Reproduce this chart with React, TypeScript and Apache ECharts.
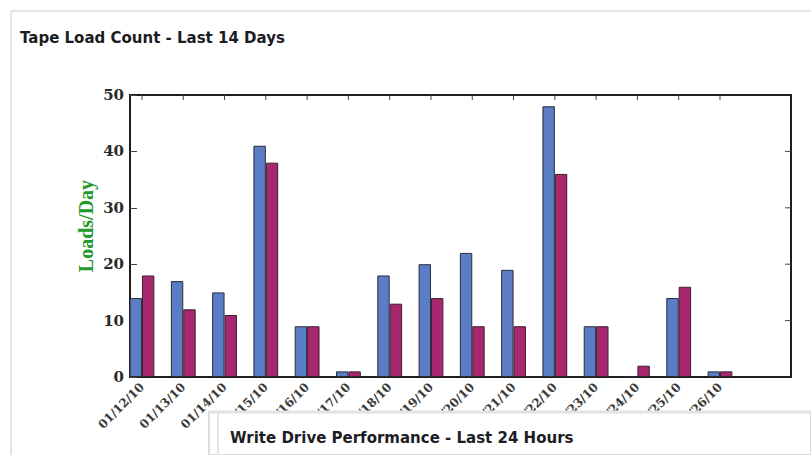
import React, { useEffect, useRef } from "react";
import * as echarts from "echarts";

const dates = [
  "01/12/10", "01/13/10", "01/14/10", "01/15/10", "01/16/10", "01/17/10", "01/18/10", "01/19/10",
  "01/20/10", "01/21/10", "01/22/10", "01/23/10", "01/24/10", "01/25/10", "01/26/10",
];
const seriesA = [14, 17, 15, 41, 9, 1, 18, 20, 22, 19, 48, 9, 0, 14, 1];
const seriesB = [18, 12, 11, 38, 9, 1, 13, 14, 9, 9, 36, 9, 2, 16, 1];
const yTicks = [0, 10, 20, 30, 40, 50];
const tickIdx = dates.map((_, i) => i);
const xMin = -0.29;
const xMax = 15.72;

export default function App() {
  const ref = useRef<HTMLDivElement>(null);
  useEffect(() => {
    document.body.style.margin = "0";
    const chart = echarts.init(ref.current!, undefined, { renderer: "svg" });
    const frame = "#1e1e1e";
    const serif = "DejaVu Serif";
    chart.setOption({
      animation: false,
      grid: { left: 130, right: 20, top: 95, bottom: 78 },
      xAxis: [
        {
          type: "value",
          position: "bottom",
          min: xMin,
          max: xMax,
          splitLine: { show: false },
          axisLine: { show: true, onZero: false, lineStyle: { color: frame, width: 2 } },
          axisTick: { show: false },
          axisLabel: {
            customValues: tickIdx,
            rotate: 45,
            margin: 8,
            color: "#3a3a3a",
            fontFamily: serif,
            fontWeight: "bold",
            fontSize: 12,
            formatter: (v: number) => dates[Math.round(v)] ?? "",
          },
        },
      ],
      yAxis: [
        {
          type: "value",
          min: 0,
          max: 50,
          interval: 10,
          position: "left",
          splitLine: { show: false },
          axisLine: { show: true, onZero: false, lineStyle: { color: frame, width: 2 } },
          axisTick: { show: true, inside: true, length: 7, lineStyle: { color: "#444", width: 1 } },
          axisLabel: { color: "#2a2a2a", fontFamily: serif, fontWeight: "bold", fontSize: 15, margin: 6 },
        },
      ],
      series: [
        {
          type: "bar",
          barWidth: 12.4,
          barGap: "0%",
          data: seriesA.map((v, i) => [i, v]),
          itemStyle: { color: "#5a7dc6", borderColor: "#2b2b3a", borderWidth: 1 },
        },
        {
          type: "bar",
          barWidth: 12.4,
          barGap: "0%",
          data: seriesB.map((v, i) => [i, v]),
          itemStyle: { color: "#a8286f", borderColor: "#3a2030", borderWidth: 1 },
        },
      ],
    });

    const xL = chart.convertToPixel({ xAxisIndex: 0 }, xMin) as number;
    const xR = chart.convertToPixel({ xAxisIndex: 0 }, xMax) as number;
    const yT = chart.convertToPixel({ yAxisIndex: 0 }, 50) as number;
    const yB = chart.convertToPixel({ yAxisIndex: 0 }, 0) as number;

    const els: any[] = [];
    tickIdx.forEach((i) => {
      const x = chart.convertToPixel({ xAxisIndex: 0 }, i) as number;
      els.push({ type: "polyline", shape: { points: [[x, yT], [x, yT + 5]] }, style: { stroke: "#444", lineWidth: 1, fill: null } });
    });
    yTicks.slice(1, -1).forEach((v) => {
      const y = chart.convertToPixel({ yAxisIndex: 0 }, v) as number;
      els.push({ type: "polyline", shape: { points: [[xR, y], [xR - 6, y]] }, style: { stroke: "#444", lineWidth: 1, fill: null } });
    });

    chart.setOption({
      graphic: [
        {
          type: "polyline",
          shape: { points: [[xL - 1, yT], [xR, yT], [xR, yB + 1]] },
          style: { stroke: frame, lineWidth: 2, fill: null },
        },
        ...els,
        {
          type: "text",
          x: 20,
          y: 38,
          style: {
            text: "Tape Load Count - Last 14 Days",
            fill: "#1c1c24",
            font: "bold 15px 'DejaVu Sans'",
            verticalAlign: "middle",
          },
        },
        {
          type: "text",
          x: 86,
          y: 226,
          rotation: Math.PI / 2,
          style: {
            text: "Loads/Day",
            fill: "#22992c",
            font: "bold 20px 'Liberation Serif'",
            align: "center",
            verticalAlign: "middle",
          },
        },
        {
          type: "rect",
          z: 100,
          shape: { x: 209, y: 412, width: 602, height: 43 },
          style: { fill: "#ffffff", stroke: "#dcdcdc", lineWidth: 2 },
        },
        {
          type: "polyline",
          z: 101,
          shape: { points: [[208, 412], [811, 412]] },
          style: { stroke: "#e2e2e2", lineWidth: 3, fill: null },
        },
        {
          type: "polyline",
          z: 101,
          shape: { points: [[218, 414], [218, 455]] },
          style: { stroke: "#e6e6e6", lineWidth: 2, fill: null },
        },
        {
          type: "text",
          z: 102,
          x: 230,
          y: 438,
          style: {
            text: "Write Drive Performance - Last 24 Hours",
            fill: "#1c1c24",
            font: "bold 15px 'DejaVu Sans'",
            verticalAlign: "middle",
          },
        },
      ],
    });
    return () => chart.dispose();
  }, []);
  return (
    <div style={{ position: "absolute", left: 0, top: 0, width: 811, height: 455, background: "#ffffff", overflow: "hidden" }}>
      <div
        style={{
          position: "absolute",
          left: 10,
          top: 10,
          width: 820,
          height: 470,
          borderTop: "2px solid #e4e4e4",
          borderLeft: "2px solid #e4e4e4",
          borderTopLeftRadius: 3,
        }}
      />
      <div ref={ref} style={{ width: 811, height: 455, position: "absolute", left: 0, top: 0 }} />
    </div>
  );
}
